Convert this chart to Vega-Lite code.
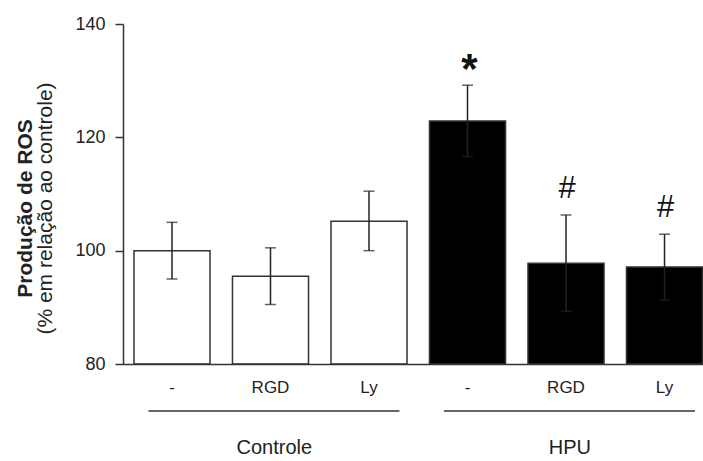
{
  "$schema": "https://vega.github.io/schema/vega-lite/v6.json",
  "width": 580,
  "height": 340,
  "autosize": "none",
  "padding": {"left": 123, "top": 24, "right": 0, "bottom": 97},
  "background": "white",
  "config": {"view": {"stroke": null}, "font": "Liberation Sans"},
  "datasets": {
    "bars": [
      {"key": "Controle|-", "group": "Controle", "mean": 100.0, "lo": 95.0, "hi": 105.0, "sig": ""},
      {"key": "Controle|RGD", "group": "Controle", "mean": 95.5, "lo": 90.5, "hi": 100.5, "sig": ""},
      {"key": "Controle|Ly", "group": "Controle", "mean": 105.2, "lo": 100.0, "hi": 110.5, "sig": ""},
      {"key": "HPU|-", "group": "HPU", "mean": 122.9, "lo": 116.6, "hi": 129.2, "sig": "*"},
      {"key": "HPU|RGD", "group": "HPU", "mean": 97.8, "lo": 89.3, "hi": 106.3, "sig": "#"},
      {"key": "HPU|Ly", "group": "HPU", "mean": 97.1, "lo": 91.3, "hi": 102.9, "sig": "#"}
    ],
    "groups": [
      {"group": "Controle", "first": "Controle|-", "mid": "Controle|RGD", "last": "Controle|Ly"},
      {"group": "HPU", "first": "HPU|-", "mid": "HPU|RGD", "last": "HPU|Ly"}
    ]
  },
  "resolve": {"scale": {"y": "shared", "x": "shared"}, "axis": {"y": "independent", "x": "shared"}},
  "layer": [
    {
      "data": {"name": "bars"},
      "mark": {"type": "bar", "stroke": "#333333", "strokeWidth": 1.5},
      "encoding": {
        "x": {
          "field": "key", "type": "nominal", "sort": null,
          "scale": {"type": "band", "domain": ["Controle|-", "Controle|RGD", "Controle|Ly", "HPU|-", "HPU|RGD", "HPU|Ly"], "paddingInner": 0.228, "paddingOuter": 0.058, "align": 0.96},
          "axis": {"orient": "bottom", "title": null, "labelExpr": "split(datum.label, '|')[1]", "labelAngle": 0, "ticks": false, "domain": true, "domainColor": "#333333", "domainWidth": 1.5, "labelFontSize": 17, "labelColor": "#222222", "labelPadding": 15, "zindex": 1}
        },
        "y": {
          "field": "mean", "type": "quantitative",
          "scale": {"domain": [80, 140], "nice": false, "zero": false},
          "axis": {"orient": "left", "values": [80, 100, 120, 140], "grid": false, "tickSize": 8, "tickColor": "#333333", "tickWidth": 1.5, "domainColor": "#333333", "domainWidth": 1.5, "labelFontSize": 18, "labelColor": "#222222", "labelPadding": 10, "title": "(% em relação ao controle)", "titleFontWeight": "normal", "titleFontSize": 21, "titleColor": "#222222", "titlePadding": 19, "titleY": 184}
        },
        "y2": {"datum": 80},
        "fill": {"field": "group", "type": "nominal", "scale": {"domain": ["Controle", "HPU"], "range": ["#ffffff", "#000000"]}, "legend": null}
      }
    },
    {
      "data": {"name": "bars"},
      "mark": {"type": "rule", "color": "#222222", "strokeWidth": 1.5},
      "encoding": {
        "x": {"field": "key", "type": "nominal", "sort": null},
        "y": {
          "field": "lo", "type": "quantitative",
          "scale": {"domain": [80, 140], "nice": false, "zero": false},
          "axis": {"orient": "left", "labels": false, "ticks": false, "domain": false, "grid": false, "title": "Produção de ROS", "titleFontWeight": "bold", "titleFontSize": 21, "titleColor": "#222222", "titlePadding": 88, "titleY": 184}
        },
        "y2": {"field": "hi"}
      }
    },
    {
      "data": {"name": "bars"},
      "mark": {"type": "tick", "color": "#222222", "size": 11, "thickness": 1.5},
      "encoding": {
        "x": {"field": "key", "type": "nominal", "sort": null},
        "y": {"field": "hi", "type": "quantitative", "scale": {"domain": [80, 140], "nice": false, "zero": false}, "axis": null}
      }
    },
    {
      "data": {"name": "bars"},
      "mark": {"type": "tick", "color": "#222222", "size": 11, "thickness": 1.5},
      "encoding": {
        "x": {"field": "key", "type": "nominal", "sort": null},
        "y": {"field": "lo", "type": "quantitative", "scale": {"domain": [80, 140], "nice": false, "zero": false}, "axis": null}
      }
    },
    {
      "data": {"name": "bars"},
      "transform": [{"filter": "datum.sig == '*'"}],
      "mark": {"type": "text", "fontSize": 42, "fontWeight": "bold", "baseline": "alphabetic", "dy": -2, "dx": 2, "color": "#111111"},
      "encoding": {
        "x": {"field": "key", "type": "nominal", "sort": null},
        "y": {"field": "hi", "type": "quantitative", "scale": {"domain": [80, 140], "nice": false, "zero": false}, "axis": null},
        "text": {"field": "sig"}
      }
    },
    {
      "data": {"name": "bars"},
      "transform": [{"filter": "datum.sig == '#'"}],
      "mark": {"type": "text", "fontSize": 31, "baseline": "alphabetic", "dy": -17, "dx": 1, "color": "#111111"},
      "encoding": {
        "x": {"field": "key", "type": "nominal", "sort": null},
        "y": {"field": "hi", "type": "quantitative", "scale": {"domain": [80, 140], "nice": false, "zero": false}, "axis": null},
        "text": {"field": "sig"}
      }
    },
    {
      "data": {"name": "groups"},
      "mark": {"type": "rule", "color": "#333333", "strokeWidth": 1.5},
      "encoding": {
        "x": {"field": "first", "type": "nominal", "sort": null, "bandPosition": 0.19},
        "x2": {"field": "last", "bandPosition": 0.9},
        "y": {"datum": 71.7, "type": "quantitative", "scale": {"domain": [80, 140], "nice": false, "zero": false}, "axis": null}
      }
    },
    {
      "data": {"name": "groups"},
      "mark": {"type": "text", "fontSize": 20, "baseline": "middle", "color": "#222222"},
      "encoding": {
        "x": {"field": "mid", "type": "nominal", "sort": null, "bandPosition": 0.55},
        "y": {"datum": 65.2, "type": "quantitative", "scale": {"domain": [80, 140], "nice": false, "zero": false}, "axis": null},
        "text": {"field": "group"}
      }
    }
  ]
}
